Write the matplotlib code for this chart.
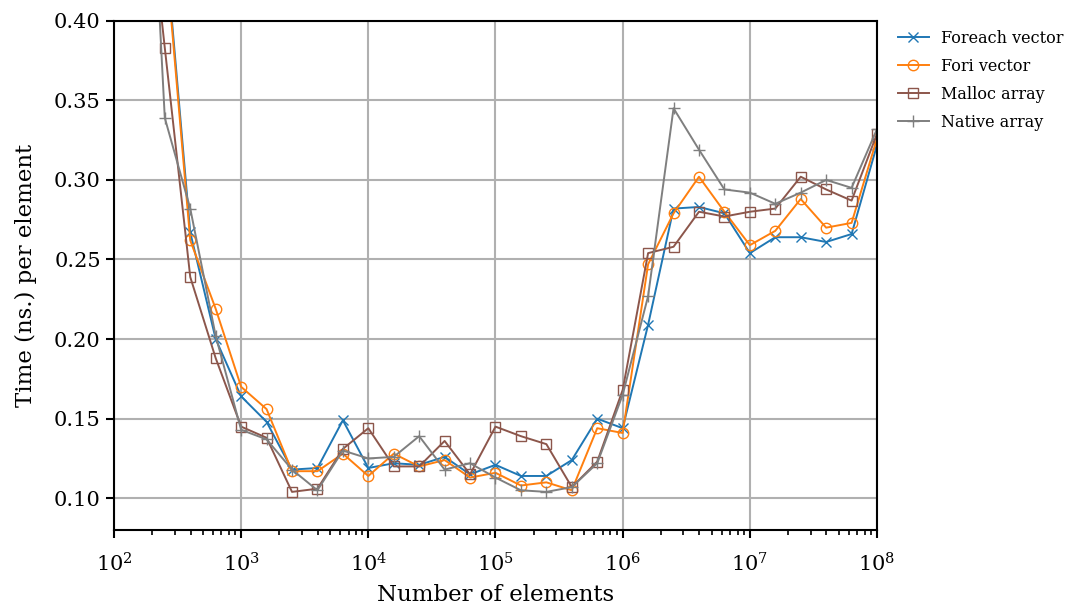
import matplotlib
matplotlib.use('Agg')

import matplotlib.pyplot as plt
from matplotlib.ticker import NullFormatter

# Array sizes (number of elements), five samples per decade
n_elements = [100, 158, 251, 398, 631,
              1000, 1585, 2512, 3981, 6310,
              10000, 15849, 25119, 39811, 63096,
              100000, 158489, 251189, 398107, 630957,
              1000000, 1584893, 2511886, 3981072, 6309573,
              10000000, 15848932, 25118864, 39810717, 63095734,
              100000000]

# Time (ns.) per element for each access pattern
foreach_vector = [0.92, 0.63, 0.452, 0.267, 0.200,
                  0.164, 0.148, 0.118, 0.119, 0.149,
                  0.119, 0.122, 0.121, 0.126, 0.115,
                  0.121, 0.114, 0.114, 0.124, 0.150,
                  0.144, 0.209, 0.282, 0.283, 0.279,
                  0.254, 0.264, 0.264, 0.261, 0.266,
                  0.322]
fori_vector = [0.93, 0.62, 0.448, 0.262, 0.219,
               0.170, 0.156, 0.117, 0.117, 0.128,
               0.114, 0.128, 0.120, 0.124, 0.113,
               0.116, 0.108, 0.110, 0.105, 0.144,
               0.141, 0.247, 0.279, 0.302, 0.280,
               0.259, 0.268, 0.288, 0.270, 0.273,
               0.326]
malloc_array = [0.90, 0.53, 0.383, 0.239, 0.188,
                0.145, 0.138, 0.104, 0.106, 0.131,
                0.144, 0.120, 0.120, 0.136, 0.115,
                0.145, 0.139, 0.134, 0.107, 0.123,
                0.168, 0.254, 0.258, 0.280, 0.277,
                0.280, 0.282, 0.302, 0.294, 0.287,
                0.329]
native_array = [0.95, 0.65, 0.339, 0.282, 0.202,
                0.143, 0.137, 0.118, 0.105, 0.130,
                0.125, 0.126, 0.139, 0.118, 0.122,
                0.113, 0.105, 0.104, 0.107, 0.122,
                0.165, 0.227, 0.345, 0.319, 0.294,
                0.292, 0.285, 0.292, 0.300, 0.295,
                0.332]

x_ticks = [1e2, 1e3, 1e4, 1e5, 1e6, 1e7, 1e8]
y_ticks = [0.10, 0.15, 0.20, 0.25, 0.30, 0.35, 0.40]
y_tick_labels = ['0.10', '0.15', '0.20', '0.25', '0.30', '0.35', '0.40']

plt.rcParams['font.family'] = ['DejaVu Serif']
plt.rcParams['mathtext.fontset'] = 'custom'
plt.rcParams['mathtext.rm'] = 'DejaVu Serif'

fig = plt.figure(figsize=(10.65, 6.1), dpi=100)
ax = fig.add_axes([0.107, 0.131, 0.7165, 0.835])

ax.plot(n_elements, foreach_vector, color='#1f77b4', marker='x', ms=7.5,
        lw=1.4, label='Foreach vector')
ax.plot(n_elements, fori_vector, color='#ff7f0e', marker='o', ms=7.5,
        mfc='none', lw=1.4, label='Fori vector')
ax.plot(n_elements, malloc_array, color='#8c564b', marker='s', ms=7.5,
        mfc='none', lw=1.4, label='Malloc array')
ax.plot(n_elements, native_array, color='#7f7f7f', marker='+', ms=8.5,
        lw=1.4, label='Native array')

ax.set_xscale('log')
ax.set_xlim(1e2, 1e8)
ax.set_xticks(x_ticks)
ax.xaxis.set_minor_formatter(NullFormatter())
ax.set_ylim(0.08, 0.40)
ax.set_yticks(y_ticks)
ax.set_yticklabels(y_tick_labels)

ax.grid(True, which='major', color='#b0b0b0', lw=1.5)
ax.set_axisbelow(True)
for s in ax.spines.values():
    s.set_linewidth(1.5)
ax.tick_params(which='major', length=6, width=1.5, labelsize=15)
ax.tick_params(axis='x', which='major', pad=10)
ax.tick_params(which='minor', length=3.5, width=1.2)

ax.set_xlabel('Number of elements', fontsize=16.5, labelpad=6)
ax.set_ylabel('Time (ns.) per element', fontsize=16.5, labelpad=12)

ax.legend(loc='upper left', bbox_to_anchor=(1.008, 1.01), frameon=False,
          fontsize=11.5, handlelength=2.0, handletextpad=0.7,
          labelspacing=0.68)

plt.savefig('out.png', dpi=100)
plt.close('all')
